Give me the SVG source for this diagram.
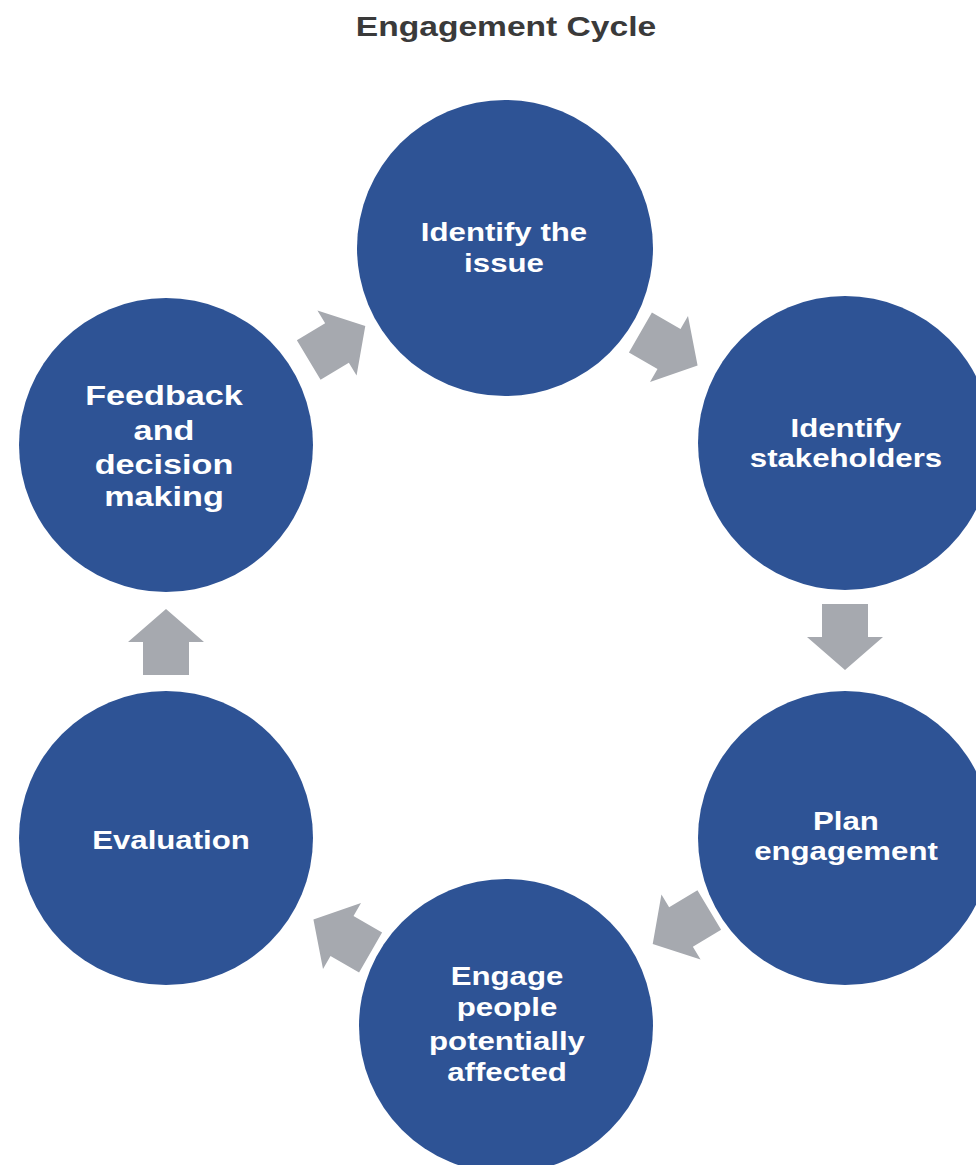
<svg xmlns="http://www.w3.org/2000/svg" width="976" height="1165" viewBox="0 0 976 1165">
  <defs>
    <style>
      .node { fill: #2E5395; }
      .label { fill: #FFFFFF; font-family: "Liberation Sans", Arial, sans-serif; font-weight: bold; font-size: 26px; text-anchor: middle; }
      .big { font-size: 28.5px; }
      .title { fill: #3A3A3A; font-family: "Liberation Sans", Arial, sans-serif; font-weight: bold; font-size: 28px; text-anchor: middle; }
      .flow { fill: #A6A9AF; }
    </style>
    <!-- block arrow pointing right, centred on the origin -->
    <polygon id="blockArrow" points="-33,-23 0,-23 0,-38 33,0 0,38 0,23 -33,23"/>
  </defs>

  <rect width="976" height="1165" fill="#FFFFFF"/>

  <text class="title" transform="translate(506,36) scale(1.2,1)">Engagement Cycle</text>

  <g id="connectors" class="flow">
    <use href="#blockArrow" transform="translate(337,343) rotate(-31)"/>
    <use href="#blockArrow" transform="translate(669,349) rotate(30)"/>
    <use href="#blockArrow" transform="translate(845,637) rotate(90)"/>
    <use href="#blockArrow" transform="translate(681,927) rotate(149)"/>
    <use href="#blockArrow" transform="translate(342,936) rotate(210)"/>
    <use href="#blockArrow" transform="translate(166,642) rotate(-90)"/>
  </g>

  <g id="identify-issue">
    <circle class="node" cx="505" cy="248" r="148"/>
    <text class="label" transform="translate(504,241) scale(1.2,1)">Identify the</text>
    <text class="label" transform="translate(504,272) scale(1.2,1)">issue</text>
  </g>

  <g id="identify-stakeholders">
    <circle class="node" cx="845" cy="443" r="147"/>
    <text class="label" transform="translate(846,437) scale(1.2,1)">Identify</text>
    <text class="label" transform="translate(846,467) scale(1.2,1)">stakeholders</text>
  </g>

  <g id="plan-engagement">
    <circle class="node" cx="845" cy="838" r="147"/>
    <text class="label" transform="translate(846,830) scale(1.2,1)">Plan</text>
    <text class="label" transform="translate(846,860) scale(1.2,1)">engagement</text>
  </g>

  <g id="engage-people">
    <circle class="node" cx="506" cy="1026" r="147"/>
    <text class="label" transform="translate(507,985) scale(1.2,1)">Engage</text>
    <text class="label" transform="translate(507,1016) scale(1.2,1)">people</text>
    <text class="label" transform="translate(507,1050) scale(1.2,1)">potentially</text>
    <text class="label" transform="translate(507,1081) scale(1.2,1)">affected</text>
  </g>

  <g id="evaluation">
    <circle class="node" cx="166" cy="838" r="147"/>
    <text class="label" transform="translate(171,849) scale(1.2,1)">Evaluation</text>
  </g>

  <g id="feedback-decision">
    <circle class="node" cx="166" cy="445" r="147"/>
    <text class="label big" transform="translate(164,405) scale(1.2,1)">Feedback</text>
    <text class="label big" transform="translate(164,440) scale(1.2,1)">and</text>
    <text class="label big" transform="translate(164,474) scale(1.2,1)">decision</text>
    <text class="label big" transform="translate(164,506) scale(1.2,1)">making</text>
  </g>
</svg>
